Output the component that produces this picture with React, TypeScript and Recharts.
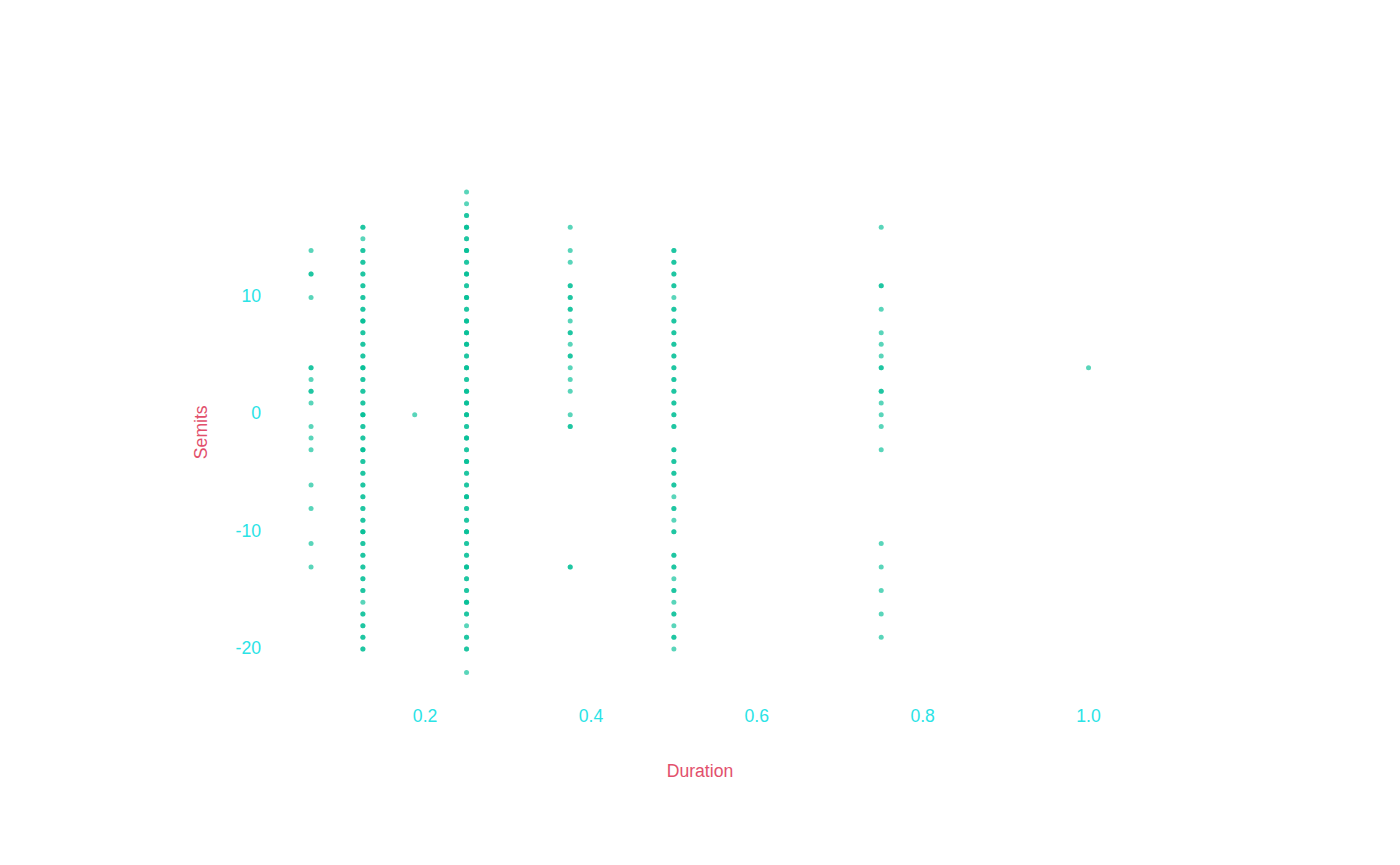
import React from 'react';
import { ScatterChart, Scatter, XAxis, YAxis, Label } from 'recharts';

// note durations (x) and the semitone intervals seen at each one (y);
// repeated values are notes that land on the same spot
const durations = [0.0625, 0.125, 0.1875, 0.25, 0.375, 0.5, 0.75, 1.0];

const semits0625 = [14, 12, 12, 10, 4, 4, 3, 2, 2, 1, -1, -2, -3, -6, -8, -11, -13];
const semits125 = [
  16, 16, 15, 14, 14, 13, 13, 12, 12, 11, 11, 10, 10, 9, 9, 8, 8, 8, 7, 7, 6, 6,
  5, 5, 4, 4, 4, 3, 3, 2, 2, 1, 1, 0, 0, 0, -1, -1, -2, -2, -3, -3, -3, -4, -4,
  -5, -5, -6, -6, -7, -7, -8, -8, -9, -9, -10, -10, -10, -11, -11, -12, -12,
  -13, -13, -14, -14, -15, -15, -16, -17, -17, -18, -18, -19, -19, -20, -20,
];
const semits1875 = [0];
const semits25 = [
  19, 18, 17, 17, 16, 16, 16, 15, 15, 14, 14, 14, 13, 13, 12, 12, 12, 11, 11,
  10, 10, 10, 9, 9, 8, 8, 8, 7, 7, 7, 6, 6, 6, 5, 5, 4, 4, 4, 3, 3, 2, 2, 2,
  1, 1, 1, 0, 0, 0, -1, -1, -2, -2, -2, -3, -3, -4, -4, -4, -5, -5, -6, -6,
  -7, -7, -7, -8, -8, -9, -9, -10, -10, -10, -11, -11, -12, -12, -13, -13, -13,
  -14, -14, -15, -15, -16, -16, -16, -17, -17, -18, -19, -19, -20, -20, -22,
];
const semits375 = [16, 14, 13, 11, 11, 10, 10, 9, 9, 8, 7, 7, 6, 5, 5, 4, 3, 2, 0, -1, -1, -13, -13];
const semits5 = [
  14, 14, 13, 13, 12, 12, 11, 11, 10, 9, 9, 8, 8, 7, 7, 6, 6, 5, 5, 4, 4, 3, 3,
  2, 2, 1, 1, 0, 0, -1, -1, -3, -3, -4, -4, -5, -5, -6, -6, -7, -8, -8, -9,
  -10, -10, -12, -12, -13, -13, -14, -15, -15, -16, -17, -17, -18, -19, -19, -20,
];
const semits75 = [16, 11, 11, 9, 7, 6, 5, 4, 4, 2, 2, 1, 0, -1, -3, -11, -13, -15, -17, -19];
const semits1 = [4];

const semitsByDuration = [semits0625, semits125, semits1875, semits25, semits375, semits5, semits75, semits1];

const xTicks = [0.2, 0.4, 0.6, 0.8, 1.0];
const yTicks = [-20, -10, 0, 10];

const data = durations.flatMap((d, i) => semitsByDuration[i].map((s) => ({ duration: d, semits: s })));

const FONT = '"Liberation Sans", Arial, sans-serif';
const TICK_COLOR = '#2ae3e6';
const TITLE_COLOR = '#e2506c';
const DOT_COLOR = '#00bf95';

const tickStyle = { fill: TICK_COLOR, fontSize: 17.6, fontFamily: FONT };

const XTitle = ({ viewBox }: any) => (
  <text
    x={viewBox.x + viewBox.width / 2}
    y={viewBox.y + 79}
    textAnchor="middle"
    fill={TITLE_COLOR}
    fontSize={17.6}
    fontFamily={FONT}
  >
    Duration
  </text>
);

const YTitle = ({ viewBox }: any) => {
  const x = viewBox.x + viewBox.width - 62.7;
  const y = viewBox.y + viewBox.height / 2;
  return (
    <text
      x={x}
      y={y}
      transform={`rotate(-90, ${x}, ${y})`}
      textAnchor="middle"
      fill={TITLE_COLOR}
      fontSize={17.6}
      fontFamily={FONT}
    >
      Semits
    </text>
  );
};

const Dot = (props: any) => (
  <circle cx={props.cx} cy={props.cy} r={2.5} fill={DOT_COLOR} fillOpacity={0.65} />
);

export default function App() {
  return (
    <div style={{ position: 'absolute', left: 0, top: 0, background: '#fff' }}>
      <ScatterChart width={1400} height={865} margin={{ top: 166.2, right: 270, bottom: 0, left: 0 }}>
        <XAxis
          type="number"
          dataKey="duration"
          domain={[0.013, 1.05]}
          ticks={xTicks}
          tickFormatter={(v: number) => v.toFixed(1)}
          axisLine={false}
          tickLine={false}
          tickSize={6}
          tickMargin={5.5}
          height={166.7}
          tick={tickStyle}
          allowDataOverflow
        >
          <Label content={<XTitle />} />
        </XAxis>
        <YAxis
          type="number"
          dataKey="semits"
          domain={[-24.2, 21.2]}
          ticks={yTicks}
          axisLine={false}
          tickLine={false}
          tickSize={6}
          tickMargin={3}
          width={270}
          tick={{ ...tickStyle, dy: -1.5 }}
          allowDataOverflow
        >
          <Label content={<YTitle />} />
        </YAxis>
        <Scatter data={data} shape={<Dot />} isAnimationActive={false} />
      </ScatterChart>
    </div>
  );
}
